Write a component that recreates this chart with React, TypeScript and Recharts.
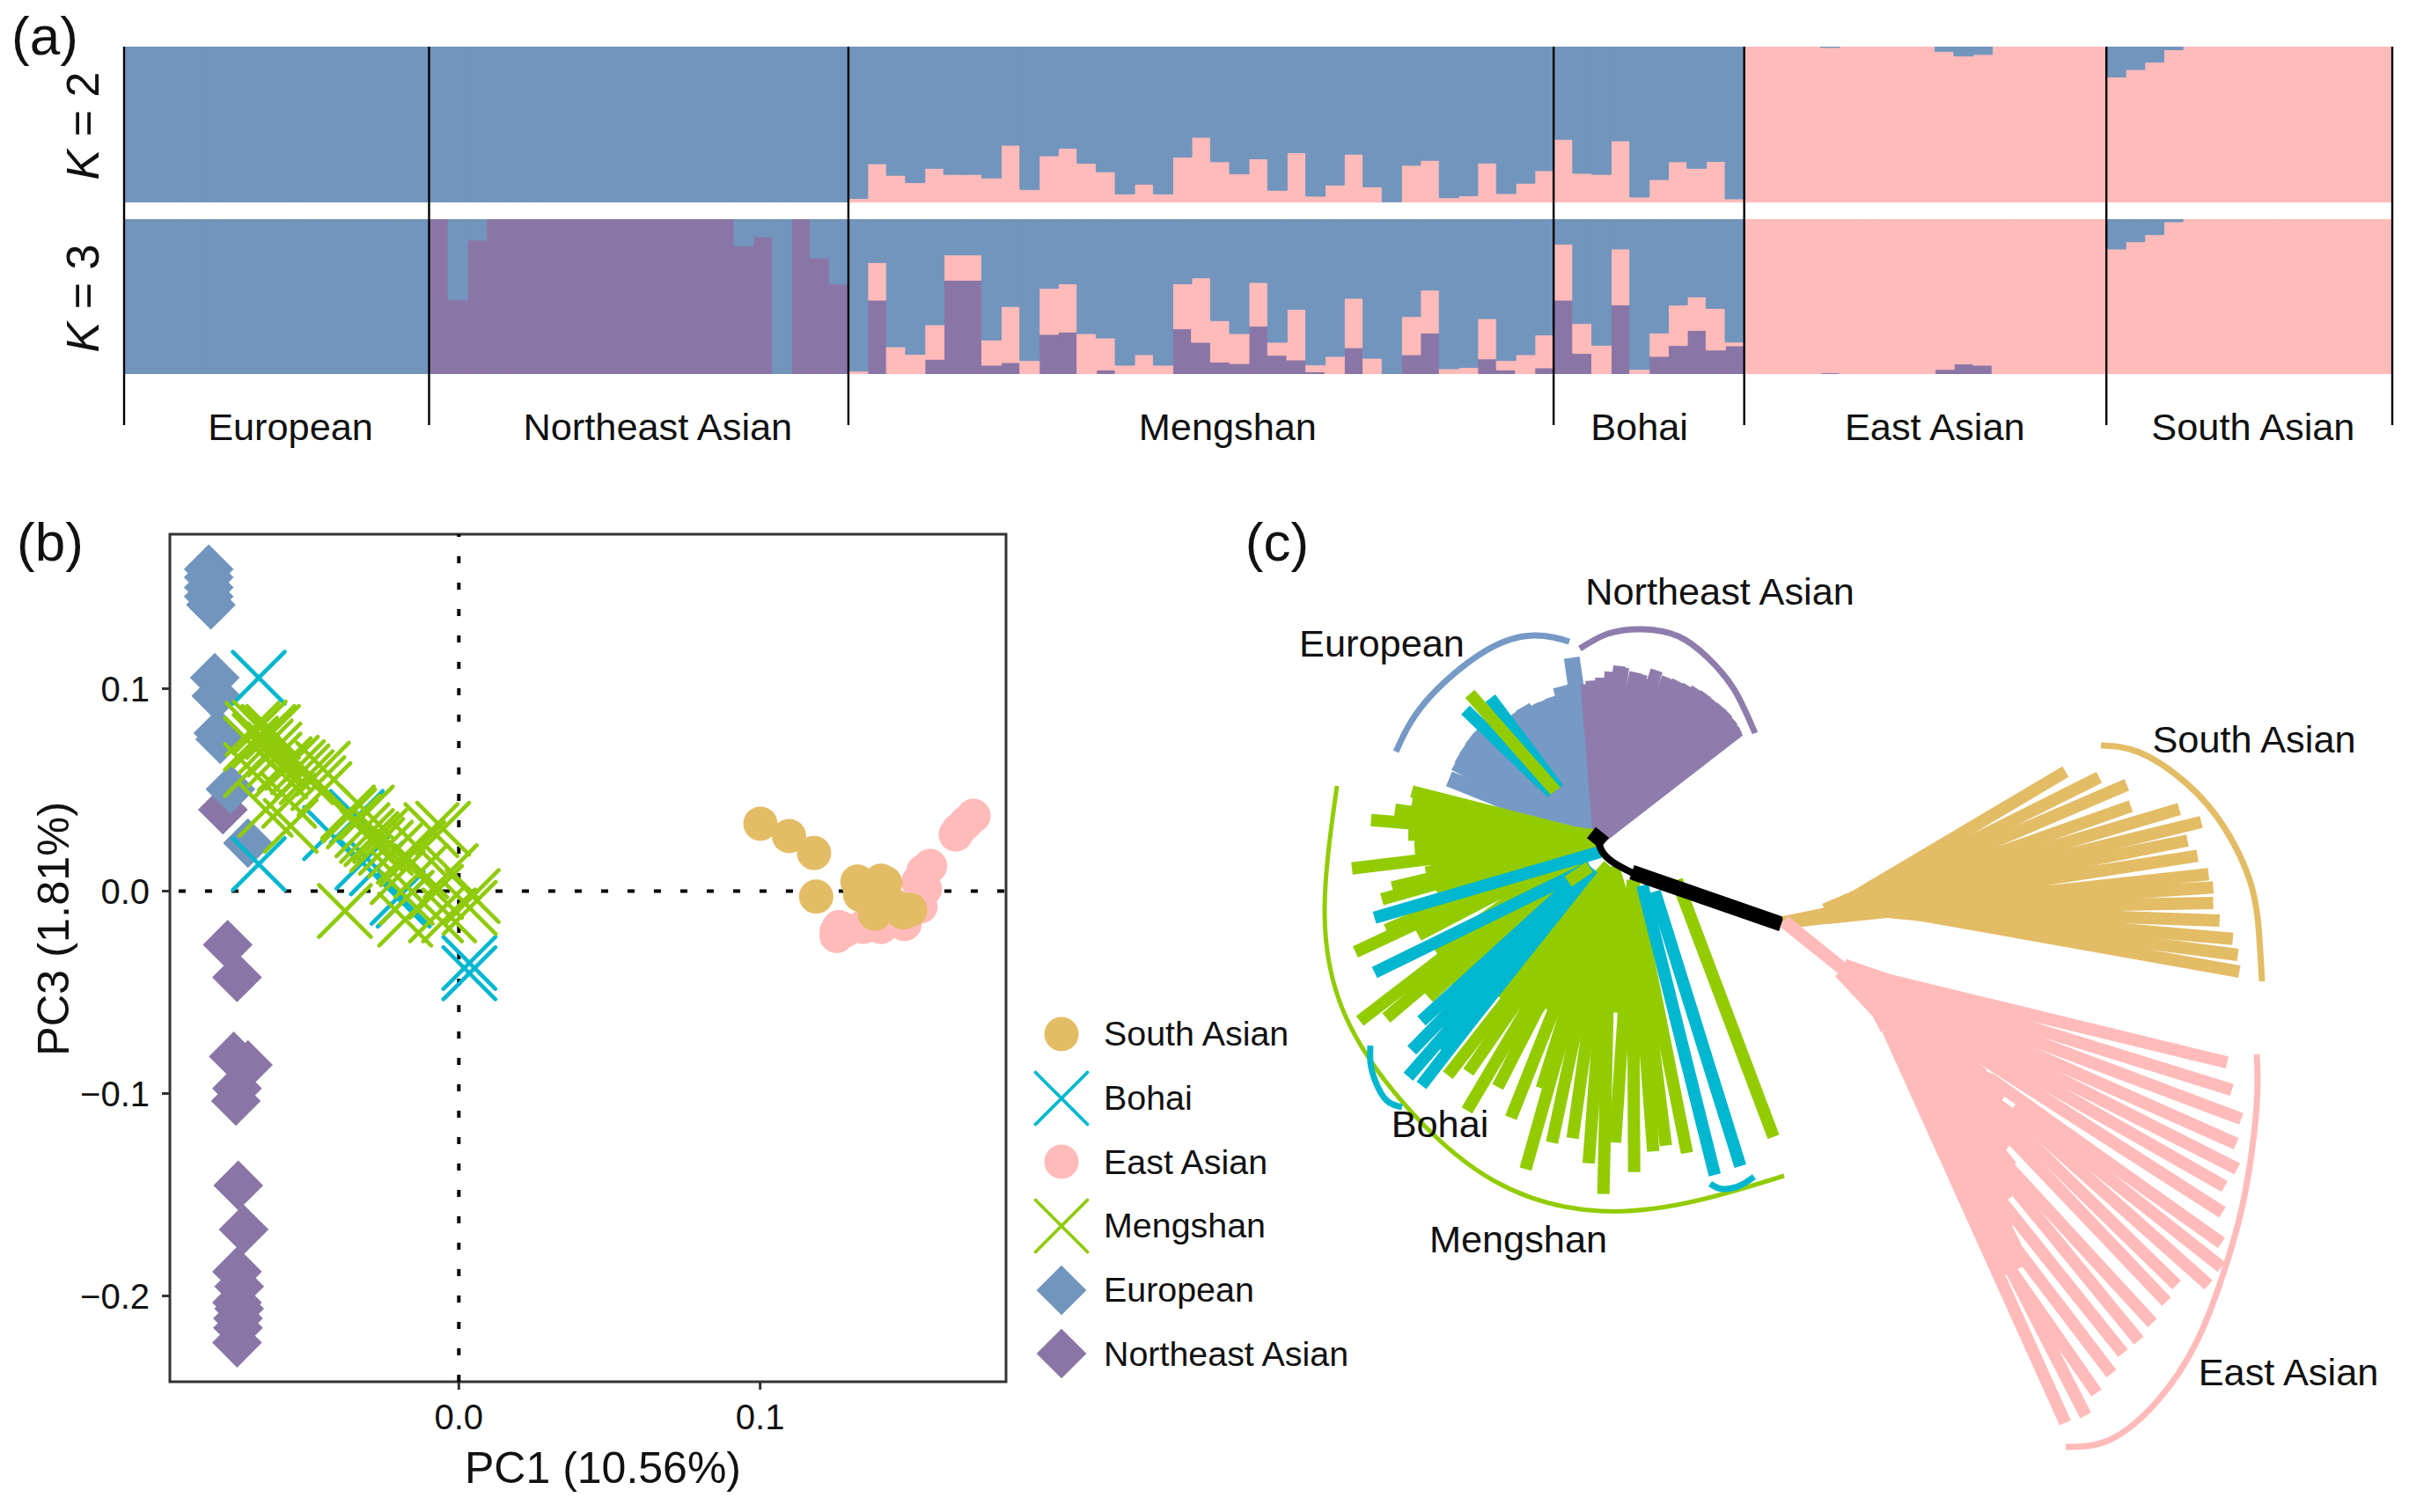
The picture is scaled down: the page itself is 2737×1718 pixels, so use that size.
import { Bar, BarChart, ComposedChart, Legend, Line, ReferenceArea, ReferenceLine, Scatter, ScatterChart, XAxis, YAxis } from 'recharts'

const BLUE = '#7295BD'
const PURPLE = '#8A76A6'
const PINK = '#FFBBBA'
const GOLD = '#E3BC66'
const GREEN = '#92CC00'
const CYAN = '#00B7CF'
const TREE_BLUE = '#7699C5'
const TREE_PURPLE = '#8E7CAC'
const FONT = '"Liberation Sans", Arial, sans-serif'

// panel a: admixture proportions, one value per individual
const groupNames = ['European', 'Northeast Asian', 'Mengshan', 'Bohai', 'East Asian', 'South Asian']
const groupEdges = [0, 16, 38, 75, 85, 104, 119]
const groupLabelAt = [8.73, 28, 57.9, 79.5, 95, 111.7]

const k2Pink = [
	0, 0, 0, 0, 0, 0, 0, 0, 0, 0, 0, 0, 0, 0, 0, 0,
	0, 0, 0, 0, 0, 0, 0, 0, 0, 0, 0, 0, 0, 0, 0, 0, 0, 0, 0, 0, 0, 0,
	0.025, 0.248, 0.174, 0.127, 0.219, 0.18, 0.18, 0.157, 0.367, 0.083, 0.299, 0.348, 0.251, 0.197, 0.055, 0.117, 0.055, 0.291, 0.418, 0.261,
	0.183, 0.28, 0.078, 0.319, 0.04, 0.112, 0.31, 0.1, 0.004, 0.238, 0.27, 0.03, 0.043, 0.253, 0.057, 0.123, 0.204,
	0.405, 0.187, 0.18, 0.395, 0.034, 0.147, 0.261, 0.219, 0.263, 0.023,
	1, 1, 1, 1, 0.995, 1, 1, 1, 1, 1, 0.97, 0.94, 0.95, 1, 1, 1, 1, 1, 1,
	0.805, 0.853, 0.9, 0.98, 1, 1, 1, 1, 1, 1, 1, 1, 1, 1, 1
]
const k3Purple = [
	0, 0, 0, 0, 0, 0, 0, 0, 0, 0, 0, 0, 0, 0, 0, 0,
	1, 0.481, 0.864, 1, 1, 1, 1, 1, 1, 1, 1, 1, 1, 1, 1, 1, 0.826, 0.886, 0, 1, 0.75, 0.58,
	0, 0.477, 0, 0, 0.095, 0.606, 0.606, 0.057, 0.074, 0, 0.256, 0.271, 0, 0.027, 0, 0, 0, 0.292, 0.205, 0.078,
	0.068, 0.309, 0.121, 0.091, 0.015, 0, 0.17, 0, 0, 0.125, 0.265, 0, 0, 0.098, 0.027, 0, 0.04,
	0.477, 0.133, 0, 0.447, 0, 0.114, 0.184, 0.282, 0.155, 0.182,
	0, 0, 0, 0, 0.008, 0, 0, 0, 0, 0, 0.03, 0.066, 0.057, 0, 0, 0, 0, 0, 0,
	0, 0, 0, 0, 0, 0, 0, 0, 0, 0, 0, 0, 0, 0, 0
]
const k3Pink = [
	0, 0, 0, 0, 0, 0, 0, 0, 0, 0, 0, 0, 0, 0, 0, 0,
	0, 0, 0, 0, 0, 0, 0, 0, 0, 0, 0, 0, 0, 0, 0, 0, 0, 0, 0, 0, 0, 0,
	0.019, 0.243, 0.176, 0.127, 0.223, 0.163, 0.163, 0.163, 0.362, 0.087, 0.297, 0.312, 0.261, 0.206, 0.057, 0.125, 0.057, 0.291, 0.416, 0.267,
	0.193, 0.282, 0.084, 0.326, 0.044, 0.114, 0.319, 0.102, 0, 0.246, 0.277, 0.034, 0.042, 0.26, 0.06, 0.125, 0.212,
	0.362, 0.193, 0.186, 0.36, 0.03, 0.151, 0.261, 0.216, 0.269, 0.024,
	1, 1, 1, 1, 0.992, 1, 1, 1, 1, 1, 0.97, 0.934, 0.943, 1, 1, 1, 1, 1, 1,
	0.807, 0.854, 0.9, 0.983, 1, 1, 1, 1, 1, 1, 1, 1, 1, 1, 1
]

const k2Table = k2Pink.map((pink, i) => ({ id: i, pink, blue: 1 - pink }))
const k3Table = k3Pink.map((pink, i) => ({ id: i, purple: k3Purple[i], pink, blue: 1 - pink - k3Purple[i] }))

// panel b: PC1, PC3 per individual
const northeastPca = [[-0.0783, 0.0402], [-0.0767, -0.0265], [-0.0736, -0.0426], [-0.0747, -0.0817], [-0.07, -0.0859], [-0.0736, -0.0975], [-0.074, -0.1037], [-0.0732, -0.1454], [-0.0714, -0.1672], [-0.0736, -0.188], [-0.0729, -0.1953], [-0.0736, -0.2033], [-0.0729, -0.2063], [-0.0733, -0.2111], [-0.0733, -0.2158], [-0.0736, -0.2231]]
const europeanPca = [[-0.083, 0.159], [-0.083, 0.155], [-0.083, 0.15], [-0.083, 0.1455], [-0.0823, 0.1414], [-0.081, 0.1054], [-0.0805, 0.0964], [-0.0798, 0.078], [-0.0792, 0.075], [-0.0758, 0.0503], [-0.07, 0.0237]]
const bohaiPca = [[-0.0664, 0.1054], [-0.0664, 0.0133], [-0.0427, 0.0286], [-0.0339, 0.0366], [-0.032, 0.0141], [-0.0272, 0.0112], [-0.0203, -0.0033], [-0.0183, -0.0047], [0.0035, -0.0355], [0.0035, -0.0406]]
const mengshanPca = [[-0.0685, 0.0801], [-0.0661, 0.0808], [-0.0632, 0.0786], [-0.0617, 0.0786], [-0.069, 0.0728], [-0.0661, 0.0743], [-0.0641, 0.0714], [-0.0612, 0.0699], [-0.069, 0.0598], [-0.0612, 0.0649], [-0.0578, 0.0627], [-0.0554, 0.0634], [-0.0534, 0.0612], [-0.0593, 0.0591], [-0.0519, 0.0591], [-0.0505, 0.0562], [-0.0451, 0.0605], [-0.0466, 0.0533], [-0.0446, 0.0504], [-0.0641, 0.0402], [-0.0563, 0.0446], [-0.0558, 0.0322], [-0.0368, 0.0388], [-0.0364, 0.0373], [-0.0349, 0.0344], [-0.032, 0.0301], [-0.0305, 0.0272], [-0.029, 0.0257], [-0.0305, 0.0388], [-0.0261, 0.0272], [-0.0271, 0.0228], [-0.0242, 0.0214], [-0.0212, 0.0199], [-0.0183, 0.017], [-0.0173, 0.0156], [-0.0135, 0.0214], [-0.0052, 0.0308], [-0.0091, 0.0301], [-0.0378, -0.0098], [-0.0178, -0.0141], [-0.0173, -0.0033], [-0.0076, -0.0004], [-0.0076, -0.012], [-0.0032, -0.012], [0.0046, -0.0025], [0.0036, -0.0083], [-0.0125, 0.0098], [-0.0203, 0.0069], [-0.0027, 0.0098]]
const eastPca = [[0.1254, -0.0199], [0.1254, -0.0222], [0.1262, -0.0178], [0.1284, -0.0192], [0.1342, -0.0177], [0.1401, -0.0177], [0.1479, -0.0163], [0.1532, -0.0076], [0.1547, 0.0011], [0.1542, 0.0098], [0.1564, 0.0124], [0.1649, 0.0279], [0.1659, 0.0302], [0.1683, 0.0337], [0.1708, 0.0372], [0.1525, 0.0045]]
const southPca = [[0.1001, 0.0333], [0.1096, 0.0272], [0.1179, 0.0188], [0.1186, -0.0027], [0.1323, 0.0047], [0.1401, 0.0051], [0.1415, 0.004], [0.1332, -0.0018], [0.1381, -0.0112], [0.1449, -0.0076], [0.1498, -0.0093], [0.1365, -0.0045], [0.1475, -0.0105]]

const pcaSeries = [
	{ name: 'Northeast Asian', points: northeastPca, color: PURPLE, mark: 'diamond' },
	{ name: 'European', points: europeanPca, color: BLUE, mark: 'diamond' },
	{ name: 'Bohai', points: bohaiPca, color: CYAN, mark: 'cross' },
	{ name: 'Mengshan', points: mengshanPca, color: '#8FCB0A', mark: 'cross' },
	{ name: 'East Asian', points: eastPca, color: PINK, mark: 'circle' },
	{ name: 'South Asian', points: southPca, color: GOLD, mark: 'circle' }
]
const legendOrder = ['South Asian', 'Bohai', 'East Asian', 'Mengshan', 'European', 'Northeast Asian']

// panel c: tree, in the picture's own units; each clade has inner nodes and tips
const stemThin = [[1815, 952], [1820, 967], [1833, 980], [1855, 992]]
const stemThick = [[1854, 991], [2024, 1050]]
const knot = [[1808, 946], [1823, 958]]

const europeanRoot = [1816, 953]
const europeanTips = [[1646.3, 885], [1653.3, 866.7], [1657.3, 858.3], [1663.3, 848.3], [1670, 838.3], [1677.3, 830], [1718.3, 811.7], [1730, 803.3], [1740, 801.7], [1751.7, 796.7], [1763.3, 791.7], [1773.3, 780], [1785.7, 747.3], [1788.3, 776.7], [1793, 786.7], [1800, 790]]
const europeanInner = [[1690, 875], [1700, 855], [1715, 835], [1745, 825], [1770, 815]]
const europeanCore = [1772, 895]
const northeastRoot = [1817, 953]
const northeastTips = [[1802.7, 777.3], [1808.3, 773.3], [1819.3, 770], [1830, 763.3], [1840, 756.7], [1844, 758.3], [1858.3, 764], [1865, 766], [1871.7, 771.7], [1882.3, 761.7], [1895, 770], [1906.7, 774], [1918.3, 779.3], [1928.3, 782.7], [1938.3, 788.3], [1948.3, 796.7], [1956.7, 803.3], [1963.3, 809.3], [1969.3, 817.3], [1972.7, 822.7], [1975, 826.7], [1976, 830]]

const topWedgeRoot = [1800, 936]
const topWedgeGreen = [[1670, 788.3]]
const topWedgeCyan = [[1665, 806.7], [1693.3, 793.3]]

const mengshanRootA = [1815, 953]
const mengshanTipsA = [[1604, 899.3], [1604, 913], [1585, 920], [1601.7, 936.7], [1557.7, 931.7], [1600, 948.3], [1607, 956.7], [1607.3, 965], [1536, 986.7], [1620, 991.7], [1581.7, 1008.3], [1570, 1021.7], [1575, 1056.7], [1540, 1081.7], [1631.7, 1081.7], [1633, 1106.7], [1623.3, 1133.3], [1545, 1160], [1575, 1156.7]]
const mengshanInnerA = [[1625, 925], [1620, 945], [1625, 975], [1630, 1005], [1625, 1030], [1610, 1060], [1650, 1120]]
const mengshanRootB = [1830, 985]
const mengshanTipsB = [[1645, 1221.7], [1668.3, 1218.3], [1701.7, 1235], [1666.7, 1261.7], [1716.7, 1270], [1751.7, 1236.7], [1733.3, 1328.3], [1763.3, 1298.3], [1786.7, 1293.3], [1805, 1321.7], [1821.7, 1356.7]]
const mengshanInnerB = [[1700, 1130], [1720, 1140], [1745, 1145], [1765, 1150], [1785, 1155], [1805, 1155], [1825, 1150], [1845, 1150], [1865, 1150], [1877, 1145]]
const mengshanRootC = [1855, 1000]
const mengshanTipsC = [[1835, 1298.3], [1856.7, 1331.7], [1878.3, 1308.3], [1892.7, 1301.7], [1916.7, 1310]]
const mengshanFar = [[1905, 1000], [2015, 1291.7]]
const mengshanStub = [[1806, 985], [1781.7, 1001.7]]

const bohaiUpper = [[1818, 968], [1561.7, 1042.7]]
const bohaiRootB = [1807, 985]
const bohaiTipsB = [[1561.7, 1105], [1615, 1160], [1604, 1193.3], [1600, 1223.3], [1615, 1233.3]]
const bohaiInner = [[1657, 1143], [1643, 1170], [1640, 1195]]
const bohaiFarA = [[1866, 1006], [1948.3, 1335]]
const bohaiFarB = [[1880, 1013], [1977.3, 1325]]

const southStemTop = [[2026, 1047], [2075, 1037]]
const southStemLow = [[2030, 1048], [2100, 1040], [2145, 1034]]
const southRootA = [2075, 1038]
const southTipsA = [[2346.8, 876.7], [2385, 883.3], [2416.4, 891.7], [2421, 916], [2476, 919.3], [2501, 934], [2485.4, 955], [2496.8, 972.3]]
const southInnerA = [[2200, 985], [2290, 990], [2330, 1012]]
const southRootB = [2145, 1033]
const southTipsB = [[2509.3, 993.3], [2514.6, 1008.3], [2514.6, 1026], [2521.8, 1046], [2536.8, 1066.7], [2542.5, 1085], [2544.3, 1104]]
const southInnerB = [[2350, 1035], [2400, 1058]]

const eastStem = [[2027, 1047], [2094, 1101]]
const eastShoulder = [[2094, 1101], [2128, 1132], [2147, 1168]]
const eastRootA = [2094, 1101]
const eastTipsA = [[2530.4, 1207.2], [2535.7, 1238.4], [2546.4, 1271.3], [2540.7, 1299.5], [2541.8, 1328.1], [2527.5, 1348.2], [2525, 1377.5]]
const eastInnerA = [[2235, 1150], [2240, 1175], [2250, 1205], [2250, 1225], [2240, 1240], [2200, 1215], [2185, 1195]]
// lower tips leave the solid part at their own inner node
const eastNodesMid = [[2260, 1225], [2290, 1255], [2290, 1265], [2280, 1272], [2272, 1280], [2272, 1315], [2280, 1340], [2270, 1360], [2265, 1385], [2265, 1415]]
const eastTipsMid = [[2523.9, 1412.3], [2523.9, 1439.8], [2509.3, 1460], [2472.9, 1460], [2461.4, 1479], [2445.4, 1503.2], [2430, 1523.3], [2412.1, 1537.6], [2398.9, 1560.7], [2382.1, 1582.7]]
const eastRootE = [2145, 1170]
const eastTipsE = [[2369.6, 1608.3], [2346.4, 1616.7]]
const eastFillRoot = [2168, 1190]
const eastInnerE = [[2262, 1235], [2275, 1250], [2285, 1275], [2285, 1300], [2280, 1330], [2285, 1360], [2282, 1395], [2284, 1420], [2286, 1445]]

const arcs = [
	{ color: TREE_BLUE, width: 7, points: [[1586, 854], [1620, 797], [1687, 740], [1743, 722], [1783, 729]] },
	{ color: TREE_PURPLE, width: 7, points: [[1795, 737], [1827, 720], [1867, 715], [1907, 723], [1940, 747], [1970, 783], [1994, 833]] },
	{ color: GOLD, width: 7, points: [[2387, 847], [2431, 855], [2484, 890], [2527, 940], [2556, 1000], [2566, 1053], [2570, 1115]] },
	{ color: PINK, width: 7, points: [[2564, 1198], [2564, 1255], [2551, 1354], [2529, 1438], [2497, 1522], [2451, 1592], [2397, 1636], [2347, 1644]] },
	{ color: GREEN, width: 5, points: [[1519, 893], [1505, 1037], [1528, 1153], [1596, 1255], [1698, 1342], [1818, 1376], [1929, 1364], [2027, 1336]] },
	{ color: CYAN, width: 7, points: [[1557, 1188], [1557, 1207], [1562, 1227], [1575, 1250], [1593, 1258]] },
	{ color: CYAN, width: 7, points: [[1943, 1345], [1957, 1351], [1977, 1347], [1993, 1337]] }
]

const treeLabels = [
	{ text: 'European', x: 1570, y: 732 },
	{ text: 'Northeast Asian', x: 1954, y: 673 },
	{ text: 'South Asian', x: 2561, y: 841 },
	{ text: 'East Asian', x: 2600, y: 1560 },
	{ text: 'Bohai', x: 1636, y: 1278 },
	{ text: 'Mengshan', x: 1725, y: 1409 }
]

const Tag = ({ x, y, size, rotate = 0, children }: any) => (
	<div
		style={{
			position: 'absolute',
			left: x,
			top: y,
			fontSize: size,
			lineHeight: 1,
			whiteSpace: 'nowrap',
			color: '#111',
			transform: `translate(-50%, -50%) rotate(${rotate}deg)`
		}}
	>
		{children}
	</div>
)

const Mark = ({ mark, color, cx, cy, line = 4.6 }: any) => {
	if (mark === 'circle') return <circle cx={cx} cy={cy} r={19.5} fill={color} />
	if (mark === 'diamond') {
		const r = 28.3
		return <path d={`M${cx} ${cy - r}L${cx + r} ${cy}L${cx} ${cy + r}L${cx - r} ${cy}Z`} fill={color} />
	}
	const r = 29.5
	return (
		<path
			d={`M${cx - r} ${cy - r}L${cx + r} ${cy + r}M${cx - r} ${cy + r}L${cx + r} ${cy - r}`}
			stroke={color}
			strokeWidth={line}
			strokeLinecap="round"
			fill="none"
		/>
	)
}

const PcaLegend = () => (
	<div style={{ fontSize: 39.4, color: '#111' }}>
		{legendOrder.map(name => {
			const s = pcaSeries.find(item => item.name === name) as any
			return (
				<div key={name} style={{ display: 'flex', alignItems: 'center', height: 72.7 }}>
					<svg width={68} height={68} style={{ marginRight: 14 }}>
						<Mark mark={s.mark} color={s.color} cx={34} cy={34} line={3.8} />
					</svg>
					<span>{name}</span>
				</div>
			)
		})}
	</div>
)

const toXY = (pts: number[][]) => pts.map(p => ({ x: p[0], y: p[1] }))

const branch = (key: string, pts: number[][], color: string, width = 14, type: any = 'linear') => (
	<Line
		key={key}
		data={toXY(pts)}
		dataKey="y"
		type={type}
		stroke={color}
		strokeWidth={width}
		dot={false}
		activeDot={false}
		legendType="none"
		isAnimationActive={false}
	/>
)

const fan = (key: string, root: number[], tips: number[][], color: string, width = 14) =>
	tips.map((tip, i) => branch(`${key}${i}`, [root, tip], color, width))

const StructureBars = ({ table, top, height, three }: any) => (
	<div style={{ position: 'absolute', left: 141, top }}>
		<BarChart width={2577} height={height} data={table} margin={{ top: 0, right: 0, bottom: 0, left: 0 }} barCategoryGap={0} barGap={0}>
			<XAxis dataKey="id" hide />
			<YAxis hide domain={[0, 1]} />
			{three && <Bar dataKey="purple" stackId="a" fill={PURPLE} stroke={PURPLE} strokeWidth={1} isAnimationActive={false} />}
			<Bar dataKey="pink" stackId="a" fill={PINK} stroke={PINK} strokeWidth={1} isAnimationActive={false} />
			<Bar dataKey="blue" stackId="a" fill={BLUE} stroke={BLUE} strokeWidth={1} isAnimationActive={false} />
		</BarChart>
	</div>
)

const GroupTick = ({ x, y, index }: any) => (
	<text x={x} y={y} dy={15} textAnchor="middle" fontSize={43.3} fill="#111">
		{groupNames[index]}
	</text>
)

export default function App() {
	return (
		<div style={{ position: 'absolute', left: 0, top: 0, width: 2737, height: 1718, background: '#fff', fontFamily: FONT, overflow: 'hidden' }}>
			<Tag x={51} y={41} size={62}>(a)</Tag>
			<Tag x={57} y={616} size={62}>(b)</Tag>
			<Tag x={1451} y={616} size={62}>(c)</Tag>
			<Tag x={94} y={143} size={52} rotate={-90}><i>K</i> = 2</Tag>
			<Tag x={94} y={339} size={52} rotate={-90}><i>K</i> = 3</Tag>

			<StructureBars table={k2Table} top={53} height={177} />
			<StructureBars table={k3Table} top={249} height={176} three />

			<div style={{ position: 'absolute', left: 131, top: 53 }}>
				<ComposedChart width={2597} height={490} margin={{ top: 0, right: 10, bottom: 0, left: 10 }}>
					<XAxis
						type="number"
						dataKey="x"
						domain={[0, 119]}
						ticks={groupLabelAt}
						interval={0}
						height={60}
						axisLine={false}
						tickLine={false}
						tickSize={0}
						tick={<GroupTick />}
					/>
					<YAxis type="number" hide domain={[0, 1]} />
					{groupEdges.map(edge => branch(`edge${edge}`, [[edge, 0], [edge, 1]], '#000', 2.4))}
				</ComposedChart>
			</div>

			<div style={{ position: 'absolute', left: 0, top: 560 }}>
				<ScatterChart width={1580} height={1158} margin={{ top: 47, right: 437, bottom: 0, left: 0 }}>
					<XAxis
						type="number"
						dataKey="x"
						domain={[-0.0959, 0.1816]}
						ticks={[0, 0.1]}
						height={148}
						allowDataOverflow
						tickFormatter={(v: number) => v.toFixed(1)}
						tick={{ fontSize: 40, fill: '#111' }}
						tickSize={9}
						tickMargin={17}
						axisLine={false}
						tickLine={{ stroke: '#333', strokeWidth: 3 }}
						label={{ value: 'PC1 (10.56%)', position: 'insideBottom', offset: 33, dx: 17, fontSize: 50, fill: '#111' }}
					/>
					<YAxis
						type="number"
						dataKey="y"
						domain={[-0.2424, 0.1763]}
						ticks={[-0.2, -0.1, 0, 0.1]}
						width={193}
						allowDataOverflow
						tickFormatter={(v: number) => v.toFixed(1).replace('-', '\u2212')}
						tick={{ fontSize: 40, fill: '#111' }}
						tickSize={9}
						tickMargin={14}
						axisLine={false}
						tickLine={{ stroke: '#333', strokeWidth: 3 }}
						label={{ value: 'PC3 (1.81%)', angle: -90, position: 'insideLeft', offset: 60, dy: -33, fontSize: 50.5, fill: '#111', textAnchor: 'middle' }}
					/>
					<ReferenceArea x1={-0.0959} x2={0.1816} y1={-0.2424} y2={0.1763} fill="none" stroke="#333" strokeWidth={3} ifOverflow="visible" />
					<ReferenceLine segment={[{ x: -0.093, y: 0 }, { x: 0.184, y: 0 }]} stroke="#000" strokeWidth={4} strokeDasharray="8 22" ifOverflow="visible" />
					<ReferenceLine x={0} stroke="#000" strokeWidth={4} strokeDasharray="8 22" />
					{pcaSeries.map(s => (
						<Scatter
							key={s.name}
							name={s.name}
							data={toXY(s.points)}
							fill={s.color}
							isAnimationActive={false}
							shape={(p: any) => <Mark mark={s.mark} color={s.color} cx={p.cx} cy={p.cy} />}
						/>
					))}
					<Legend layout="vertical" align="center" verticalAlign="middle" wrapperStyle={{ left: 1172, top: 578.5, width: 400 }} content={<PcaLegend />} />
				</ScatterChart>
			</div>

			<div style={{ position: 'absolute', left: 1400, top: 580 }}>
				<ComposedChart width={1337} height={1138} margin={{ top: 0, right: 0, bottom: 0, left: 0 }}>
					<XAxis type="number" dataKey="x" domain={[1400, 2737]} hide />
					<YAxis type="number" domain={[580, 1718]} reversed hide />
					{fan('eu', europeanRoot, europeanTips, TREE_BLUE, 18)}
					{fan('eui', europeanRoot, europeanInner, TREE_BLUE, 22)}
					{fan('twc', topWedgeRoot, topWedgeCyan, CYAN)}
					{fan('twg', topWedgeRoot, topWedgeGreen, GREEN)}
					{branch('euc', [europeanRoot, europeanCore], TREE_BLUE, 34)}
					{fan('ne', northeastRoot, northeastTips, TREE_PURPLE)}
					{fan('ma', mengshanRootA, mengshanTipsA, GREEN)}
					{fan('mai', mengshanRootA, mengshanInnerA, GREEN, 20)}
					{fan('mb', mengshanRootB, mengshanTipsB, GREEN)}
					{fan('mbi', mengshanRootB, mengshanInnerB, GREEN, 20)}
					{fan('mc', mengshanRootC, mengshanTipsC, GREEN)}
					{branch('mfar', mengshanFar, GREEN)}
					{branch('bup', bohaiUpper, CYAN)}
					{fan('bb', bohaiRootB, bohaiTipsB, CYAN)}
					{fan('bbi', bohaiRootB, bohaiInner, CYAN, 20)}
					{branch('bfa', bohaiFarA, CYAN)}
					{branch('bfb', bohaiFarB, CYAN)}
					{branch('mstub', mengshanStub, GREEN)}
					{branch('knot', knot, '#000', 16)}
					{branch('thin', stemThin, '#000', 8, 'natural')}
					{branch('thick', stemThick, '#000', 17)}
					{branch('sst', southStemTop, GOLD, 12)}
					{branch('ssl', southStemLow, GOLD, 14)}
					{fan('sa', southRootA, southTipsA, GOLD)}
					{fan('sai', southRootA, southInnerA, GOLD, 24)}
					{fan('sb', southRootB, southTipsB, GOLD)}
					{fan('sbi', southRootB, southInnerB, GOLD, 20)}
					{branch('estem', eastStem, PINK, 15)}
					{branch('eshoulder', eastShoulder, PINK, 22)}
					{fan('ea', eastRootA, eastTipsA, PINK)}
					{fan('eai', eastRootA, eastInnerA, PINK, 24)}
					{eastTipsMid.map((tip, i) => branch(`em${i}`, [eastNodesMid[i], tip], PINK))}
					{fan('ee', eastRootE, eastTipsE, PINK)}
					{fan('eei', eastFillRoot, eastInnerE, PINK, 28)}
					{arcs.map((arc, i) => branch(`arc${i}`, arc.points, arc.color, arc.width, 'natural'))}
				</ComposedChart>
			</div>

			{treeLabels.map(l => (
				<Tag key={l.text} x={l.x} y={l.y} size={43.3}>{l.text}</Tag>
			))}
		</div>
	)
}
